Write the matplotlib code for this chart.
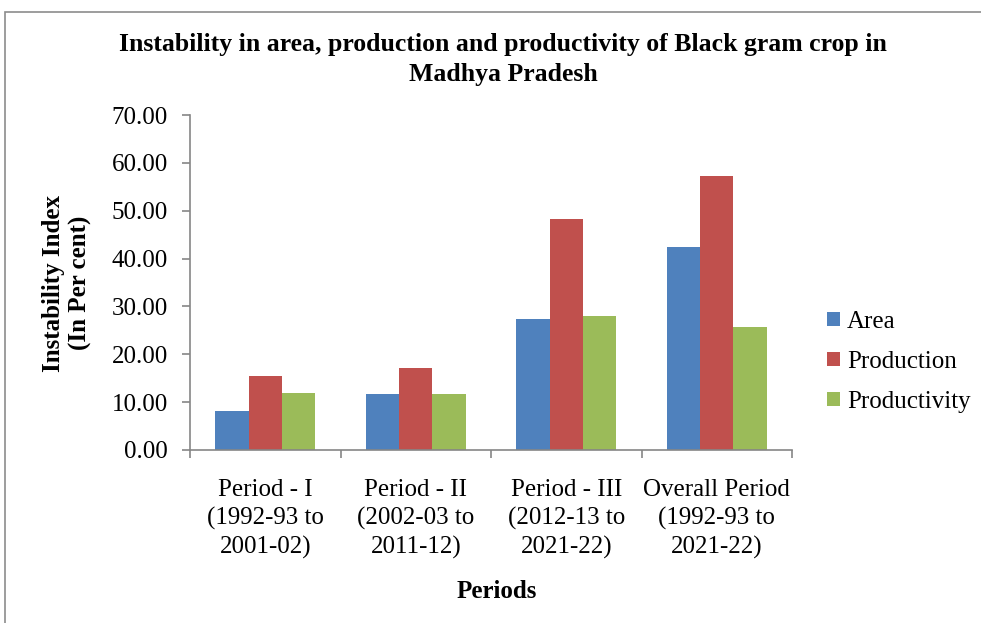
import matplotlib
matplotlib.use("Agg")
import matplotlib.pyplot as plt
import numpy as np
from matplotlib.patches import Rectangle

plt.rcParams['font.family'] = ['Liberation Serif', 'DejaVu Serif']

categories = ["Period - I\n(1992-93 to\n2001-02)",
              "Period - II\n(2002-03 to\n2011-12)",
              "Period - III\n(2012-13 to\n2021-22)",
              "Overall Period\n(1992-93 to\n2021-22)"]
area = [8.24, 11.70, 27.30, 42.40]
production = [15.40, 17.20, 48.20, 57.30]
productivity = [12.00, 11.75, 27.90, 25.60]
series_names = ["Area", "Production", "Productivity"]
colors = ["#4F81BD", "#C0504D", "#9BBB59"]
yticks = [0, 10, 20, 30, 40, 50, 60, 70]

W, H = 981, 623
fig = plt.figure(figsize=(W/100, H/100), dpi=100)
ax = fig.add_axes([190/W, 1-450/H, (792-190)/W, (450-115)/H])

# outer border
fig.patches.append(Rectangle((5/W, -0.1), 1.2, 1-12/H+0.1, transform=fig.transFigure,
                             fill=False, edgecolor="#8c8c8c", linewidth=1.2))

x = np.arange(len(categories))
bw = 0.222
for i, (vals, name, c) in enumerate(zip([area, production, productivity], series_names, colors)):
    ax.bar(x + (i-1)*bw, vals, width=bw, color=c, label=name, edgecolor='none')

FS = 18
ax.set_xlim(-0.5, len(categories)-0.5)
ax.set_ylim(0, 70)
ax.set_yticks(yticks)
ax.set_yticklabels([f"{v:.2f}" for v in yticks], fontsize=FS)
ax.set_xticks(x)
ax.set_xticklabels(categories, fontsize=FS, linespacing=1.33)
ax.tick_params(axis='x', which='major', length=0, pad=21)
ax.set_xticks(np.arange(-0.5, len(categories), 1.0), minor=True)
ax.tick_params(axis='x', which='minor', length=6, color="#868686", width=1.2)
ax.tick_params(axis='y', length=6, color="#868686", width=1.2, pad=10)

for s in ['top', 'right']:
    ax.spines[s].set_visible(False)
for s in ['left', 'bottom']:
    ax.spines[s].set_color("#868686")
    ax.spines[s].set_linewidth(1.2)

fig.text(503/W, 1-45/H, "Instability in area, production and productivity of Black gram crop in",
         ha='center', va='center', fontsize=18.5, fontweight='bold')
fig.text(503/W, 1-75/H, "Madhya Pradesh", ha='center', va='center', fontsize=18.5, fontweight='bold')

fig.text(497/W, 1-592/H, "Periods", ha='center', va='center', fontsize=FS, fontweight='bold')
fig.text(67/W, 1-283/H, "Instability Index\n(In Per cent)", ha='center', va='center',
         rotation=90, fontsize=FS, fontweight='bold', linespacing=1.15)

leg = ax.legend(loc='center left', bbox_to_anchor=(827/W, 1-362/H), bbox_transform=fig.transFigure,
                frameon=False, fontsize=FS, handlelength=0.5, handleheight=0.5,
                handletextpad=0.3, labelspacing=0.72, borderpad=0, borderaxespad=0)

fig.savefig("out.png", dpi=100)
